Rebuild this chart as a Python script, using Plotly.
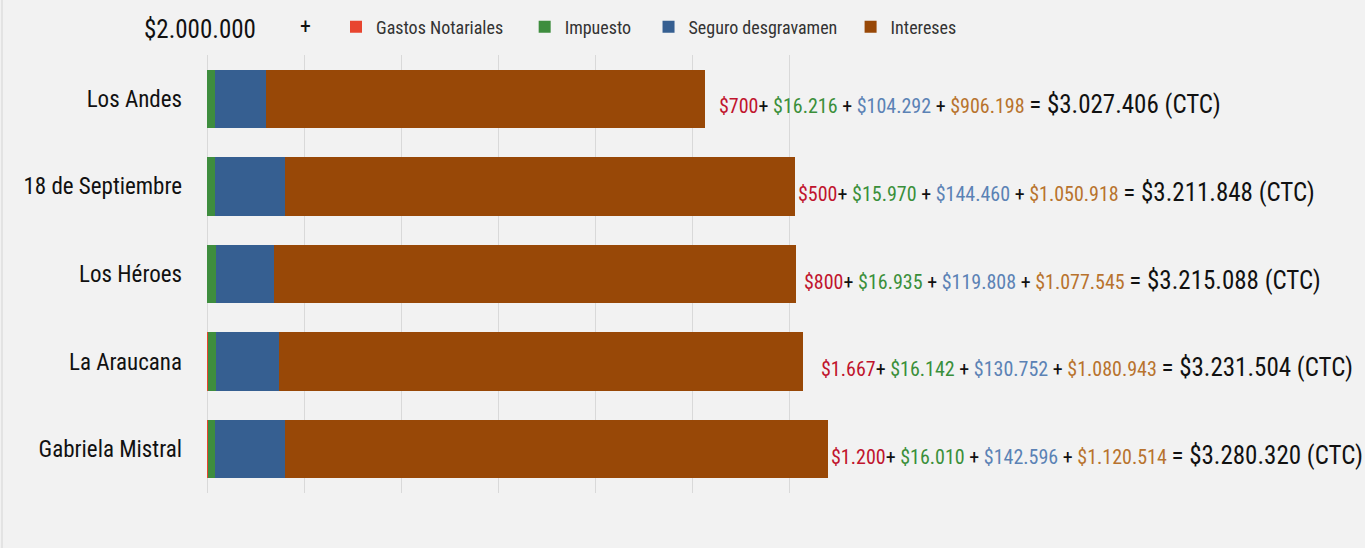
import plotly.graph_objects as go

# ---- data ----
entidades = ["Los Andes", "18 de Septiembre", "Los Héroes", "La Araucana", "Gabriela Mistral"]
gastos_notariales = [700, 500, 800, 1667, 1200]
impuesto = [16216, 15970, 16935, 16142, 16010]
seguro_desgravamen = [104292, 144460, 119808, 130752, 142596]
intereses = [906198, 1050918, 1077545, 1080943, 1120514]
ctc_total = [3027406, 3211848, 3215088, 3231504, 3280320]
monto_credito = "$2.000.000"
nombres_series = ["Gastos Notariales", "Impuesto", "Seguro desgravamen", "Intereses"]

bar_colors = ["#e8452f", "#3e8d3e", "#365f91", "#984807"]
text_colors = ["#c0142d", "#3a8f3a", "#5b82b5", "#b8732d"]
legend_pad = [4, 3, 2, 0]  # non-breaking spaces after legend names (spacing only)

W, H = 1365, 548
L, R, T, B = 207, 479, 55, 55
PW, PH = W - L - R, H - T - B
FONT = "Roboto Condensed, Liberation Sans Narrow, Arial Narrow, sans-serif"


def fmt(v):
    return "$" + f"{v:,}".replace(",", ".")


fig = go.Figure()
for name, vals, col, pad in zip(nombres_series,
                                [gastos_notariales, impuesto, seguro_desgravamen, intereses],
                                bar_colors, legend_pad):
    fig.add_trace(go.Bar(
        y=entidades, x=vals, name=name + "\u00a0" * pad, orientation="h",
        marker=dict(color=col, line=dict(width=0)),
    ))

totals = [a + b + c + d for a, b, c, d in zip(gastos_notariales, impuesto, seguro_desgravamen, intereses)]
xshifts = [12, 1, 6, 16, 1]
for i, ent in enumerate(entidades):
    parts = [gastos_notariales[i], impuesto[i], seguro_desgravamen[i], intereses[i]]
    segs = [f'<span style="color:{c}">{fmt(v)}</span>' for v, c in zip(parts, text_colors)]
    txt = segs[0] + "+ " + segs[1] + " + " + segs[2] + " + " + segs[3] + \
        f' <span style="font-size:25px;color:#111">= {fmt(ctc_total[i])} (CTC)</span>'
    fig.add_annotation(
        x=totals[i], y=ent, xref="x", yref="y", text=txt, showarrow=False,
        xanchor="left", yanchor="middle", xshift=xshifts[i], yshift=-6,
        font=dict(family=FONT, size=20, color="#111"),
    )

# header text before legend
fig.add_annotation(x=(200 - L) / PW, y=1 + (T - 29) / PH, xref="paper", yref="paper",
                   text=monto_credito, showarrow=False, xanchor="center", yanchor="middle",
                   font=dict(family=FONT, size=25, color="#111"))
fig.add_annotation(x=(305 - L) / PW, y=1 + (T - 27) / PH, xref="paper", yref="paper",
                   text="+", showarrow=False, xanchor="center", yanchor="middle",
                   font=dict(family=FONT, size=22, color="#111"))

# left border line of the slide
fig.add_shape(type="line", xref="paper", yref="paper",
              x0=-(L - 2) / PW, x1=-(L - 2) / PW,
              y0=-B / PH, y1=1 + T / PH,
              line=dict(color="#dedede", width=1.5))

fig.update_layout(
    width=W, height=H,
    barmode="stack", bargap=0.335,
    margin=dict(l=L, r=R, t=T, b=B, autoexpand=False),
    paper_bgcolor="#f2f2f2", plot_bgcolor="#f2f2f2",
    font=dict(family=FONT, color="#111"),
    showlegend=True,
    legend=dict(orientation="h", x=(336 - L) / PW, xanchor="left",
                y=1 + (T - 27) / PH, yanchor="middle",
                font=dict(family=FONT, size=18, color="#333"),
                bgcolor="rgba(0,0,0,0)", itemwidth=30, traceorder="normal"),
    xaxis=dict(range=[0, 1400000], dtick=200000, showgrid=True, gridcolor="#d9d9d9", gridwidth=1,
               zeroline=True, zerolinecolor="#d9d9d9", zerolinewidth=1,
               showticklabels=False, ticks="", showline=False, fixedrange=True),
    yaxis=dict(autorange="reversed", showgrid=False, ticks="", showline=False,
               tickfont=dict(family=FONT, size=23, color="#111"), ticklabelstandoff=24),
)

fig.write_html("out.html", config={"displayModeBar": False},
               post_script="document.body.style.margin='0px';document.body.style.background='#f2f2f2';")
